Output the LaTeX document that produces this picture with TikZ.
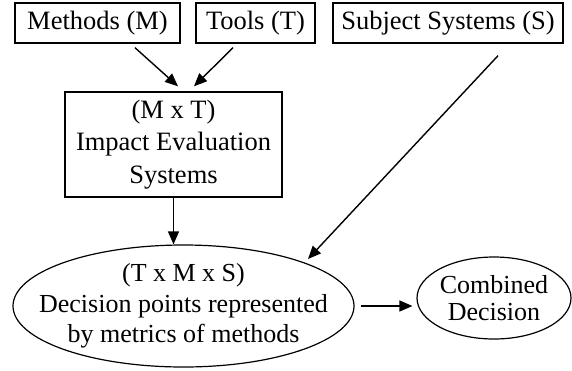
\documentclass[tikz,border=0pt]{standalone}
\usepackage{fontspec}
\setmainfont{Liberation Serif}
\usetikzlibrary{shapes.geometric,arrows.meta,calc}
\begin{document}
\begin{tikzpicture}[x=1pt,y=-1pt,
    boite/.style={draw,line width=1.4pt,inner sep=0pt,align=center,font=\fontsize{26.5}{32.5}\selectfont},
    bulle/.style={ellipse,draw,line width=1.2pt,align=center},
    fleche/.style={line width=1.4pt,-{Triangle[length=13pt,width=11pt]}}]
    \useasboundingbox (0,0) rectangle (572,370);
    % les trois entrees
    \node[boite,minimum width=165pt,minimum height=40pt] (meth) at (97.5,23) {Methods (M)};
    \node[boite,minimum width=119pt,minimum height=40pt] (tools) at (255.5,23) {Tools (T)};
    \node[boite,minimum width=230pt,minimum height=40pt] (subj) at (448,23) {Subject Systems (S)};
    \node[boite,minimum width=217pt,minimum height=105pt] (impact) at (173.5,144.5) {(M x T)\\Impact Evaluation\\Systems};
    % les decisions
    \node[bulle,inner xsep=-24pt,inner ysep=0pt,minimum width=341pt,minimum height=122pt,
        font=\fontsize{26}{30.5}\selectfont] (dec) at (183.5,306)
        {(T x M x S)\\Decision points represented\\by metrics of methods};
    \node[bulle,inner sep=0pt,minimum width=154pt,minimum height=82pt,
        font=\fontsize{26}{27}\selectfont] (comb) at (494,298) {Combined\\Decision};
    \draw[fleche] ($(meth.south)+(37.5,4)$) -- ($(impact.north)+(4.5,-5)$);
    \draw[fleche] ($(tools.south)+(-22.5,4)$) -- ($(impact.north)+(20.5,-5)$);
    \draw[fleche] (impact.south) -- (impact.south |- dec.north);
    \draw[fleche] ($(subj.south)+(50,12)$) -- ($(dec.center)+(124.5,-47)$);
    \draw[fleche] ($(dec.east)+(6,0)$) -- ($(dec.east -| comb.west)+(-4,0)$);
\end{tikzpicture}
\end{document}
